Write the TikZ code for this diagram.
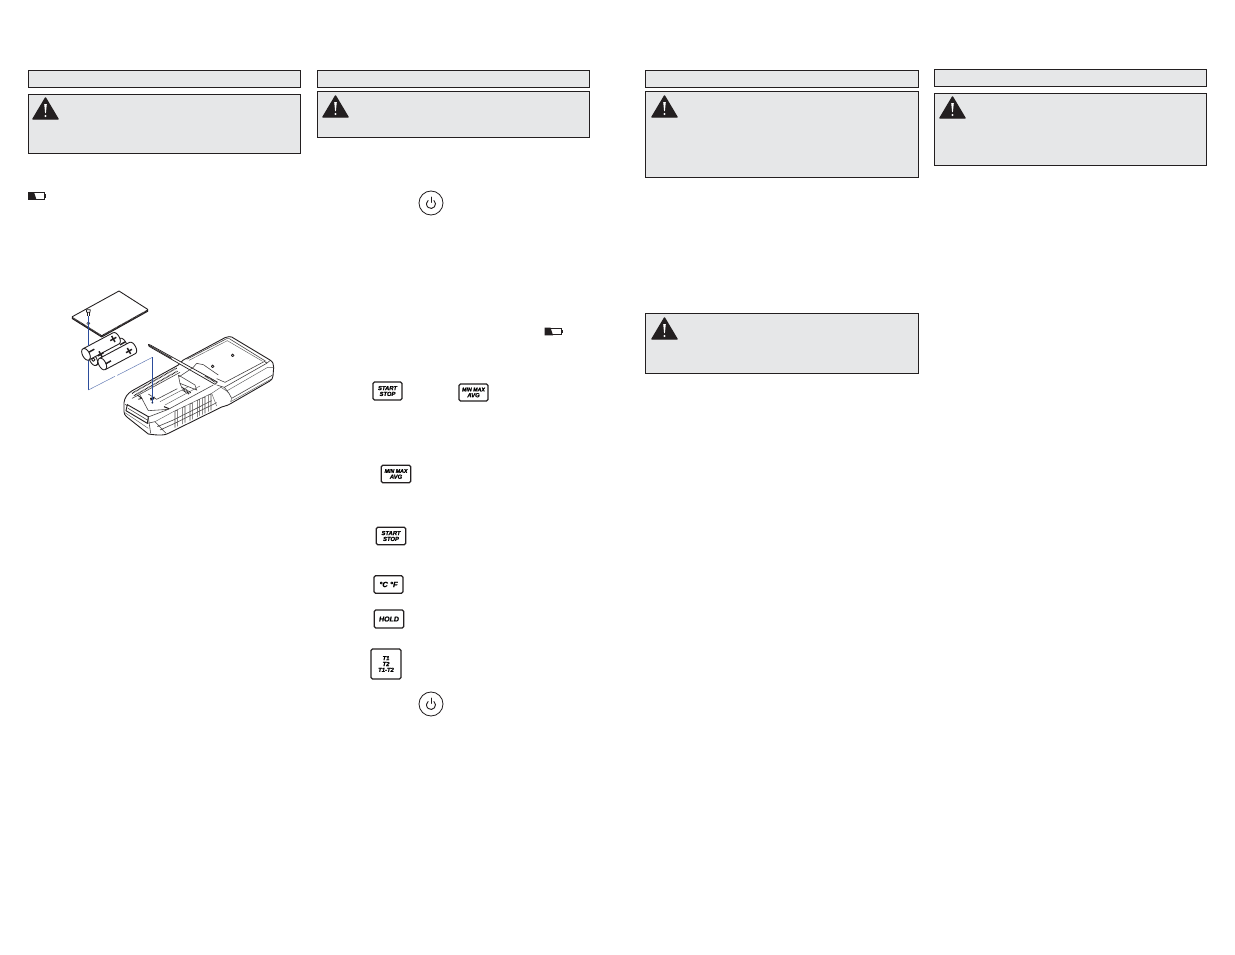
\documentclass[tikz,border=0pt]{standalone}
\usepackage{fontspec}
\setmainfont{Liberation Sans}
\newfontface\btnface[FakeBold=1.2]{Liberation Sans Bold Italic}
\usetikzlibrary{calc}
\definecolor{panelgray}{HTML}{E6E7E8}
\definecolor{ink}{HTML}{231F20}
\definecolor{blueline}{HTML}{2B4C9B}
\definecolor{detail}{HTML}{555555}
\newcommand{\pxu}{0.03cm}
\tikzset{
  panel/.style={draw=ink,fill=panelgray,line width=0.85pt},
  btn/.style={draw=ink,fill=white,line width=1.15pt,rounded corners=1.3pt,inner sep=0pt,align=center,
    font=\fontsize{5}{5}\selectfont\btnface},
  pwr/.style={circle,draw=ink,fill=white,line width=0.7pt,minimum size=24*\pxu,inner sep=0pt},
  outline/.style={draw=ink,line width=0.75pt,line join=round},
  thin detail/.style={draw=detail,line width=0.35pt},
  mid detail/.style={draw=ink!85,line width=0.5pt},
  hatch/.style={draw=ink,line width=1.1pt,dash pattern=on 0.6pt off 0.6pt},
  blue thick/.style={draw=blueline,line width=0.95pt},
  blue thin/.style={draw=blueline!75,line width=0.4pt},
  sign/.style={draw=ink,line width=1.25pt}
}
% warning triangle: centre x, top y
\newcommand{\warn}[2]{%
  \fill[ink,draw=ink,line width=1.2pt,line join=round] (#1,#2+1) -- (#1+12.5,#2+22) -- (#1-12.5,#2+22) -- cycle;
  \fill[white] (#1-1.3,#2+7) -- (#1+1.3,#2+7) -- (#1+0.4,#2+16) -- (#1-0.4,#2+16) -- cycle;
  \fill[white] (#1,#2+19) circle (1.1);
}
% battery icon: left x, top y
\newcommand{\lowbatt}[2]{%
  \draw[ink,line width=1pt] (#1+.6,#2+.6) rectangle (#1+16.6,#2+7.2);
  \fill[ink] (#1,#2) -- (#1+6,#2) -- (#1+8.5,#2+7.8) -- (#1,#2+7.8) -- cycle;
  \fill[ink] (#1+16.6,#2+2) rectangle (#1+18.2,#2+5.8);
}
\newcommand{\btnat}[6]{\node[btn,minimum width=#4*\pxu,minimum height=#5*\pxu] (#1) at (#2,#3) {#6};}
% battery cylinder in 3x-zoom coordinates
\newcommand{\cell}[3]{%
  \begin{scope}[shift={(#1,#2)},rotate=28]
    \filldraw[outline,fill=white] (0,-19) -- (#3,-19) .. controls (#3+14,-19) and (#3+14,19) .. (#3,19) -- (0,19)
      .. controls (-14,19) and (-14,-19) .. (0,-19) -- cycle;
    \draw[outline] (0,-19) .. controls (14,-19) and (14,19) .. (0,19);
  \end{scope}}
\newcommand{\plussign}[2]{\draw[sign] (#1-9,#2+5) -- (#1+9,#2-5) (#1-5,#2-9) -- (#1+5,#2+9);}
\newcommand{\minussign}[2]{\draw[sign] (#1-8,#2+4.5) -- (#1+8,#2-4.5);}
\begin{document}
\begin{tikzpicture}[x=\pxu,y=-\pxu]
\useasboundingbox (0,0) rectangle (1235,954);
\fill[white] (0,0) rectangle (1235,954);

% panels
\draw[panel] (28.3,70.3) rectangle (300.7,87);
\draw[panel] (28.3,94) rectangle (300.7,153);
\draw[panel] (317.3,70.3) rectangle (589.7,87);
\draw[panel] (317.3,91.3) rectangle (589.7,137);
\draw[panel] (645.5,70.3) rectangle (918.3,87);
\draw[panel] (645.5,91.3) rectangle (918.3,177);
\draw[panel] (645.5,313.3) rectangle (918.3,373);
\draw[panel] (934.3,69.3) rectangle (1206.7,86);
\draw[panel] (934.3,93.3) rectangle (1206.7,165);
\warn{45.5}{97}
\warn{335.5}{95}
\warn{664.5}{95}
\warn{664.5}{317}
\warn{952.5}{96}

% battery icons
\lowbatt{28}{192}
\lowbatt{544.5}{327.5}

% buttons
\node[pwr] (pwrA) at (431,203) {};
\node[pwr] (pwrB) at (431,704) {};
\foreach \n in {pwrA,pwrB}{
  \draw[ink,line width=0.8pt,line cap=round] ($(\n)+(2.9,-2.5)$) arc[start angle=-50,end angle=230,radius=4.5];
  \draw[ink,line width=0.8pt,line cap=round] ($(\n)+(0,-6)$) -- ($(\n)+(0,-0.5)$);
}
\btnat{startA}{387.5}{391}{29}{18}{START\\STOP}
\btnat{minA}{473.5}{392.5}{29}{17}{\fontsize{4.5}{4.6}\selectfont MIN MAX\\AVG}
\btnat{minB}{396}{474}{29.5}{17.5}{\fontsize{4.5}{4.6}\selectfont MIN MAX\\AVG}
\btnat{startB}{391}{536}{29.5}{17.5}{START\\STOP}
\btnat{cf}{388.5}{584.5}{29}{17.5}{\fontsize{6.5}{6.5}\selectfont °C °F}
\btnat{hold}{389}{619}{29.5}{18}{\fontsize{6}{6}\selectfont HOLD}
\btnat{tt}{386}{664}{30}{30}{T1\\T2\\T1-T2}

% exploded view, coordinates are those of the 3x crop
\begin{scope}[shift={(40,280)},x=\pxu/3,y=-\pxu/3]
  % cover plate
  \filldraw[outline,fill=white] (97,110) -- (237,33) -- (323,88) -- (323,94) -- (185,171) -- (97,116) -- cycle;
  \draw[ink,line width=1.3pt,dash pattern=on 0.8pt off 0.4pt] (97,113) -- (185,168) -- (323,91);
  \draw[mid detail] (145,130) circle (4.5);
  % blue line behind batteries
  \draw[blue thick] (145,107) -- (145,330);
  % screw
  \filldraw[outline,fill=white,line width=0.6pt] (139,89) -- (151,89) -- (150,97) -- (140,97) -- cycle;
  \draw[outline,line width=0.6pt] (142,97) -- (142,107) (148,97) -- (148,107);
  % batteries
  \cell{160}{239}{100}
  \cell{138}{223}{102}
  \cell{187}{252}{102}
  \draw[outline] (160,239) circle (5);
  \plussign{220}{177}
  \minussign{155}{212}
  \minussign{248}{190}
  \plussign{182}{223}
  \plussign{267}{213}
  \minussign{205}{247}
  \draw[blue thick] (145,165) -- (145,197);
  % dashed leader
  \draw[blue thin] (145,330) -- (225,289);
  \draw[blue thin] (232,286) -- (337,232);
  % instrument body
  \filldraw[outline,fill=white] (567,170) -- (575,171) -- (690,240) .. controls (699,246) and (701,252) .. (701,262)
    -- (699,288) .. controls (698,296) and (695,300) .. (688,304) -- (570,372) .. controls (560,378) and (552,378) .. (545,381)
    -- (385,460) .. controls (375,466) and (360,467) .. (325,462) -- (262,412) .. controls (255,406) and (252,402) .. (252,395)
    -- (252,368) .. controls (254,352) and (262,342) .. (275,333) -- (415,255) -- (430,240) -- (555,173) -- cycle;
  % back panel
  \draw[mid detail] (440,238) -- (560,176) -- (568,176) -- (676,243) -- (555,307) -- (530,296);
  \draw[thin detail] (447,241) -- (562,182) -- (668,244);
  \draw[mid detail] (690,242) -- (680,250) -- (553,322) -- (530,315);
  \draw[thin detail] (701,262) -- (683,262) -- (560,333) -- (540,320);
  \draw[mid detail] (698,285) -- (575,355) -- (567,340) -- (553,322);
  \draw[thin detail] (694,297) -- (572,365) -- (575,355);
  \draw[thin detail] (560,333) -- (567,340);
  \fill[ink] (678,247) circle (2.5);
  \draw[outline,line width=0.7pt] (518,259) circle (4);
  \draw[outline,line width=0.7pt] (578,226) circle (4);
  % long lid
  \filldraw[outline,fill=white,line width=0.6pt] (325,193) -- (331,195) -- (532,306) -- (525,313) -- (327,199) -- cycle;
  \draw[ink,line width=1pt,dash pattern=on 0.7pt off 0.4pt] (327,196) -- (395,235);
  \draw[hatch] (495,288) -- (527,307);
  \draw[mid detail] (470,250) -- (490,254) -- (535,285);
  \draw[mid detail] (460,262) -- (470,250);
  % battery well
  \draw[mid detail] (276,355) -- (290,348) -- (420,277);
  \draw[mid detail] (300,345) -- (325,392) -- (385,388) -- (520,315);
  \draw[hatch] (276,340) -- (410,264);
  \draw[hatch] (282,347) -- (413,273);
  \draw[mid detail] (325,342) -- (350,358) -- (412,326);
  \draw[thin detail] (360,365) -- (445,320);
  \draw[thin detail] (375,375) -- (480,318);
  \draw[mid detail] (415,285) -- (420,310) -- (470,330) -- (465,315) -- (415,285);
  \draw[mid detail] (418,290) -- (460,262);
  \draw[mid detail] (420,310) -- (425,322);
  \draw[ink,line width=1.2pt,dash pattern=on 0.8pt off 0.6pt] (425,322) -- (452,338);
  \draw[ink,line width=1.2pt,dash pattern=on 0.8pt off 0.6pt] (428,330) -- (448,342);
  \draw[ink,line width=0.7pt] (292,345) -- (305,355) -- (295,358);
  \fill[ink] (330,354) -- (344,350) -- (342,358) -- (332,362) -- cycle;
  \draw[ink,line width=0.9pt] (372,380) -- (387,386);
  % front end and grip
  \draw[mid detail] (255,373) -- (322,412) -- (385,388);
  \filldraw[draw=ink,fill=white,line width=0.8pt] (262,374) -- (325,410) -- (322,430) -- (258,392) -- cycle;
  \draw[mid detail] (264,385) -- (322,420);
  \draw[thin detail] (255,398) -- (325,445);
  \draw[mid detail] (325,412) -- (332,460);
  \draw[mid detail] (322,430) -- (345,425) -- (378,460);
  \draw[thin detail] (345,425) -- (400,395) -- (515,340);
  \draw[mid detail] (352,440) -- (400,420) -- (515,362);
  \draw[mid detail] (360,450) -- (400,432) -- (530,368);
  \draw[thin detail] (515,340) -- (545,320);
  \draw[thin detail] (515,340) -- (530,378);
  \foreach \gx/\gy in {405/393,428/382,450/372,472/361,488/354,506/345}{
    \draw[ink!80,line width=0.45pt] (\gx,\gy) -- (\gx,\gy+50) (\gx,\gy) -- (\gx+7,\gy-3) -- (\gx+7,\gy+46);
  }
  % blue into the well
  \draw[blue thick] (337,232) -- (337,370);
  \fill[blueline!60!black] (337,368) circle (3);
\end{scope}
\end{tikzpicture}
\end{document}
